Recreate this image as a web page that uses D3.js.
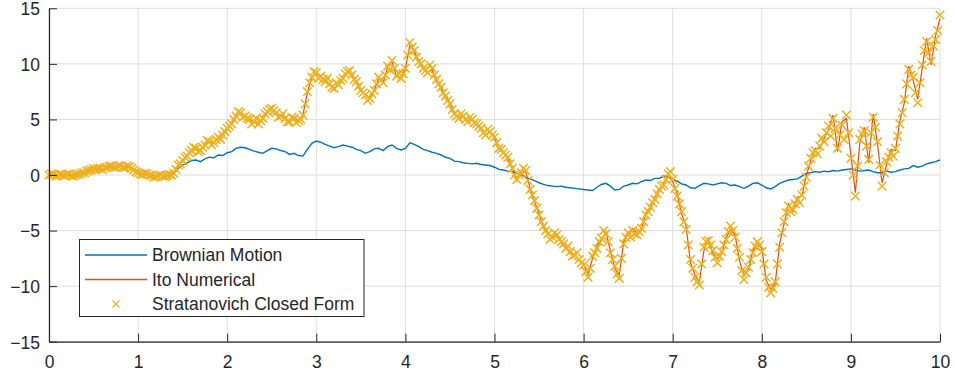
<!DOCTYPE html>
<html><head><meta charset="utf-8">
<script src="https://cdn.jsdelivr.net/npm/d3@7"></script>
<style>
body{margin:0;background:#fff}
svg{display:block}
text{font-family:"Liberation Sans",Arial,Helvetica,sans-serif}
</style></head>
<body><svg id="chart" width="955" height="379"></svg>
<script>
const brownianStep = 0.05;
const itoStep = 0.05;
const stratStep = 0.025;
const brownian = [
 0,0.05,-0.05,0,0.05,-0.05,0,0.1,0.2,0.4,
 0.5,0.55,0.5,0.65,0.75,0.7,0.8,0.65,0.7,0.45,
 0.2,0.05,0.1,-0.05,-0.1,0,-0.15,0.05,0.1,0.6,
 0.9,1.1,1.3,1.35,1.2,1.45,1.6,1.55,1.8,1.75,
 2.0,2.1,2.4,2.5,2.45,2.3,2.15,2.05,1.95,2.2,
 2.4,2.35,2.2,2.1,1.85,1.95,1.75,1.7,2.3,2.85,
 3.05,2.95,2.75,2.6,2.45,2.55,2.7,2.6,2.5,2.3,
 2.2,1.95,2.1,2.35,2.4,2.2,2.55,2.7,2.4,2.25,
 2.4,2.9,2.75,2.55,2.3,2.2,2.05,1.95,1.8,1.6,
 1.5,1.25,1.2,1.1,1.05,1.0,1.05,0.95,0.9,0.85,
 0.7,0.5,0.45,0.35,0.3,0.15,0,-0.2,-0.35,-0.5,
 -0.7,-0.85,-0.95,-1.0,-1.05,-1.0,-1.1,-1.15,-1.2,-1.25,
 -1.3,-1.35,-1.4,-1.1,-0.85,-0.75,-1.0,-1.35,-1.3,-1.0,
 -0.9,-0.75,-0.8,-0.6,-0.45,-0.5,-0.3,-0.3,-0.1,-0.2,
 -0.4,-0.55,-0.8,-0.9,-1.15,-1.2,-0.95,-0.75,-0.8,-0.9,
 -0.8,-0.7,-0.75,-0.95,-0.9,-1.05,-1.2,-1.0,-0.75,-0.7,
 -0.9,-1.15,-1.25,-1.05,-0.75,-0.6,-0.45,-0.4,-0.35,-0.1,
 0.15,0.2,0.3,0.25,0.35,0.3,0.4,0.35,0.45,0.5,
 0.55,0.45,0.35,0.4,0.45,0.3,0.2,0.2,0.35,0.25,
 0.3,0.45,0.55,0.6,0.85,0.7,0.8,1.0,1.1,1.2,
 1.35
];
const itoNumerical = [
 0,0.05,-0.05,0,0.05,-0.05,0,0.1,0.2,0.4,
 0.55,0.6,0.5,0.7,0.8,0.7,0.85,0.65,0.75,0.45,
 0.2,0.05,0.1,-0.05,-0.15,0,-0.15,0.05,0.15,0.9,
 1.3,1.7,2.2,2.4,2.2,2.7,3.0,2.9,3.4,3.6,
 4.2,4.6,5.3,5.6,5.3,5.0,4.8,4.6,5.1,5.7,
 6.0,5.6,5.3,5.1,4.8,5.1,4.9,5.4,7.4,8.8,
 9.2,8.9,8.4,8.2,7.8,8.1,8.7,9.3,9.0,8.4,
 7.6,7.2,6.9,7.6,8.7,8.3,9.7,10.2,8.9,8.7,
 9.6,11.7,11.1,10.2,9.5,9.2,9.5,8.4,7.8,7.1,
 6.4,5.5,5.1,5.3,4.8,5.0,4.5,4.2,3.6,3.9,
 3.4,2.3,2.0,1.5,0.7,-0.5,0.2,0.3,-1.2,-2.4,
 -3.5,-4.7,-5.2,-5.7,-5.3,-6.1,-6.5,-7.0,-7.1,-7.7,
 -8.0,-9.0,-7.5,-6.4,-5.9,-5.1,-6.8,-8.4,-9.0,-6.0,
 -5.3,-4.8,-5.2,-4.9,-3.4,-3.0,-2.0,-1.5,-0.7,0.0,
 -0.6,-1.7,-3.5,-4.6,-7.9,-9.0,-9.6,-6.8,-5.7,-7.0,
 -7.6,-7.1,-5.6,-4.9,-5.4,-7.7,-9.1,-8.5,-6.8,-6.2,
 -6.6,-9.5,-10.3,-9.8,-6.2,-4.4,-2.6,-3.3,-2.0,-1.9,
 0.0,1.3,2.4,2.4,3.3,4.1,5.4,2.1,4.8,5.1,
 1.8,-1.6,2.9,4.3,1.1,5.5,2.7,-0.7,0.9,2.3,
 2.2,4.9,6.5,9.8,8.5,6.8,9.6,12.3,9.9,12.5,
 14.1
];
const stratanovich = [
 0,0.1,0.05,-0.1,-0.05,0.05,0,-0.05,0.05,0.1,-0.05,-0.1,0,0.05,0.1,0.2,0.2,0.35,0.4,0.45,
 0.55,0.5,0.6,0.6,0.5,0.65,0.7,0.8,0.8,0.7,0.7,0.8,0.85,0.7,0.65,0.8,0.75,0.6,0.45,0.3,
 0.2,0.1,0.05,0.15,0.1,0.0,-0.05,-0.2,-0.15,-0.05,0,-0.1,-0.15,-0.05,0.05,0.0,0.15,0.5,0.9,1.0,
 1.3,1.6,1.7,2.0,2.2,2.5,2.4,2.1,2.2,2.5,2.7,3.1,3.0,2.7,2.9,3.2,3.4,3.2,3.6,3.9,
 4.2,4.4,4.6,5.0,5.3,5.7,5.6,5.2,5.3,5.1,5.0,4.6,4.8,5.1,4.6,4.9,5.1,5.5,5.7,5.9,
 6.0,5.8,5.6,5.2,5.3,5.5,5.1,4.8,4.8,5.2,5.1,4.7,4.9,5.0,5.4,6.4,7.5,8.3,8.8,9.3,
 9.2,8.7,8.9,8.6,8.4,8.7,8.2,7.9,7.8,8.3,8.1,8.5,8.7,9.1,9.3,9.4,9.0,8.6,8.4,8.0,
 7.6,7.4,7.2,6.7,6.9,7.3,7.6,8.2,8.8,8.5,8.3,9.0,9.8,9.5,10.3,9.6,8.9,9.2,8.7,9.1,
 9.6,10.8,11.9,11.5,11.2,10.6,10.2,10.0,9.6,9.4,9.2,9.9,9.6,9.0,8.6,8.2,7.9,7.4,7.1,6.7,
 6.4,5.9,5.5,5.3,5.1,5.5,5.3,5.0,4.8,5.2,5.0,4.7,4.6,4.4,4.2,3.8,3.6,4.1,3.9,3.6,
 3.4,2.9,2.4,2.3,2.0,1.8,1.6,1.0,0.6,0.0,-0.4,0.0,0.2,0.6,0.4,-0.5,-1.3,-1.8,-2.3,-3.0,
 -3.6,-4.2,-4.6,-5.0,-5.3,-5.8,-5.6,-5.2,-5.4,-5.8,-6.0,-6.2,-6.6,-6.4,-6.9,-7.3,-7.2,-7.0,-7.6,-7.9,
 -8.1,-8.7,-9.2,-8.4,-7.3,-7.0,-6.6,-6.0,-5.7,-5.0,-5.3,-6.0,-7.0,-7.6,-8.2,-8.9,-9.3,-7.5,-6.2,-5.6,
 -5.2,-5.6,-5.0,-5.3,-5.4,-5.1,-4.8,-4.2,-3.6,-3.3,-2.9,-2.5,-2.2,-1.7,-1.3,-1.0,-0.9,-0.4,0.1,0.3,
 -0.4,-1.2,-1.9,-2.6,-3.3,-4.2,-4.9,-6.3,-7.6,-8.4,-9.2,-9.6,-9.9,-8.0,-6.5,-6.0,-5.9,-6.3,-6.8,-7.4,
 -7.9,-7.3,-6.9,-6.3,-5.8,-5.1,-4.6,-5.0,-5.6,-6.6,-7.4,-8.6,-9.4,-8.8,-8.3,-7.6,-7.0,-6.4,-6.0,-6.3,
 -6.9,-8.0,-9.2,-10.1,-10.6,-10.2,-9.6,-8.0,-6.5,-5.2,-4.2,-3.4,-2.8,-3.3,-3.1,-2.6,-2.2,-2.5,-1.8,-1.0,
 -0.2,0.8,1.5,2.0,2.2,1.9,2.6,3.3,3.0,3.8,4.4,3.5,5.1,4.2,2.4,3.6,4.5,3.2,5.4,3.8,
 1.5,0.0,-1.9,0.8,3.2,3.7,4.0,2.6,1.4,3.8,5.2,4.3,3.0,0.9,-1.0,0.2,1.2,1.6,2.0,1.7,
 2.4,3.5,4.6,5.6,6.8,8.2,9.5,9.0,8.8,7.4,6.5,8.3,9.9,11.2,12.0,11.0,10.2,11.6,12.2,13.0,
 14.4
];
const xTicks = [0,1,2,3,4,5,6,7,8,9,10];
const yTicks = [-15,-10,-5,0,5,10,15];
const seriesNames = ["Brownian Motion","Ito Numerical","Stratanovich Closed Form"];
const colors = {blue:"#0072BD", red:"#D95319", yellow:"#EDB120"};

const svg = d3.select("#chart");
const L = 49, R = 940, T = 8.3, B = 341.7;
const x = d3.scaleLinear().domain([0,10]).range([L,R]);
const y = d3.scaleLinear().domain([-15,15]).range([B,T]);

// grid
const grid = svg.append("g").attr("stroke","#dedede").attr("stroke-width",1);
xTicks.forEach(v => grid.append("line").attr("x1",x(v)).attr("x2",x(v)).attr("y1",T).attr("y2",B));
yTicks.forEach(v => grid.append("line").attr("x1",L).attr("x2",R).attr("y1",y(v)).attr("y2",y(v)));

const lineWith = step => d3.line().x((d,i)=>x(i*step)).y(d=>y(d));
svg.append("path").datum(brownian).attr("d",lineWith(brownianStep)).attr("fill","none").attr("stroke",colors.blue).attr("stroke-width",1.4);
svg.append("path").datum(itoNumerical).attr("d",lineWith(itoStep)).attr("fill","none").attr("stroke",colors.red).attr("stroke-width",1.2);

const mark = s => `M${-s},${-s}L${s},${s}M${-s},${s}L${s},${-s}`;
svg.append("g").selectAll("path").data(stratanovich).join("path")
  .attr("transform",(d,i)=>`translate(${x(i*stratStep)},${y(d)})`)
  .attr("d",mark(4.3)).attr("fill","none").attr("stroke",colors.yellow).attr("stroke-width",1.5);

// axes
const ax = svg.append("g").attr("transform",`translate(0,${B})`)
  .call(d3.axisBottom(x).tickValues(xTicks).tickSize(-8).tickPadding(14).tickSizeOuter(0));
const ay = svg.append("g").attr("transform",`translate(${L},0)`)
  .call(d3.axisLeft(y).tickValues(yTicks).tickSize(-8).tickPadding(9).tickSizeOuter(0));
[ax,ay].forEach(g=>{
  g.select(".domain").attr("stroke","#262626").attr("stroke-width",1.2);
  g.selectAll(".tick line").attr("stroke","#262626");
  g.selectAll(".tick text").attr("fill","#262626").style("font-size","17.5px");
});
ay.selectAll(".tick text").attr("dy","0.36em");

// legend
const lg = svg.append("g");
lg.append("rect").attr("x",79.5).attr("y",239.5).attr("width",284.5).attr("height",77)
  .attr("fill","#fff").attr("stroke","#262626").attr("stroke-width",1);
const rows = [255, 279.5, 304];
lg.append("line").attr("x1",85).attr("x2",147).attr("y1",rows[0]).attr("y2",rows[0]).attr("stroke",colors.blue).attr("stroke-width",1.3);
lg.append("line").attr("x1",85).attr("x2",147).attr("y1",rows[1]).attr("y2",rows[1]).attr("stroke",colors.red).attr("stroke-width",1.3);
lg.append("path").attr("transform",`translate(116,${rows[2]})`).attr("d",mark(3.5)).attr("fill","none").attr("stroke",colors.yellow).attr("stroke-width",1.1);
seriesNames.forEach((n,i)=>lg.append("text").attr("x",152).attr("y",rows[i]).attr("dy","0.36em")
  .attr("fill","#262626").style("font-size","17.5px").text(n));
</script>
</body></html>
